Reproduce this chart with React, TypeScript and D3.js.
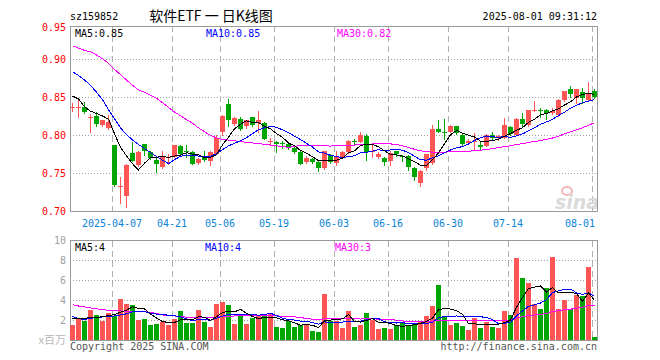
import * as React from "react";
import * as d3 from "d3";

// trading days shown (2025)
const dates = [
  "03-26", "03-27", "03-28", "03-31", "04-01", "04-02", "04-03", "04-07", "04-08", "04-09",
  "04-10", "04-11", "04-14", "04-15", "04-16", "04-17", "04-18", "04-21", "04-22", "04-23",
  "04-24", "04-25", "04-28", "04-29", "04-30", "05-06", "05-07", "05-08", "05-09", "05-12",
  "05-13", "05-14", "05-15", "05-16", "05-19", "05-20", "05-21", "05-22", "05-23", "05-26",
  "05-27", "05-28", "05-29", "05-30", "06-03", "06-04", "06-05", "06-06", "06-09", "06-10",
  "06-11", "06-12", "06-13", "06-16", "06-17", "06-18", "06-19", "06-20", "06-23", "06-24",
  "06-25", "06-26", "06-27", "06-30", "07-01", "07-02", "07-03", "07-04", "07-07", "07-08",
  "07-09", "07-10", "07-11", "07-14", "07-15", "07-16", "07-17", "07-18", "07-21", "07-22",
  "07-23", "07-24", "07-25", "07-28", "07-29", "07-30", "07-31", "08-01",
];

const opens = [
  0.836, 0.836, 0.838, 0.823, 0.826, 0.814, 0.810, 0.788, 0.732, 0.720,
  0.777, 0.761, 0.789, 0.778, 0.768, 0.759, 0.771, 0.772, 0.786, 0.7795,
  0.778, 0.764, 0.772, 0.766, 0.776, 0.805, 0.842, 0.815, 0.822, 0.812,
  0.824, 0.816, 0.817, 0.7925, 0.792, 0.7895, 0.789, 0.783, 0.778, 0.765,
  0.769, 0.765, 0.757, 0.774, 0.764, 0.772, 0.778, 0.793, 0.792, 0.799,
  0.779, 0.772, 0.770, 0.766, 0.779, 0.773, 0.773, 0.757, 0.738, 0.757,
  0.764, 0.808, 0.8048, 0.805, 0.813, 0.801, 0.790, 0.792, 0.787, 0.786,
  0.801, 0.7985, 0.797, 0.811, 0.801, 0.822, 0.814, 0.8335, 0.834, 0.834,
  0.829, 0.827, 0.847, 0.861, 0.849, 0.857, 0.847, 0.859,
];

const closes = [
  0.837, 0.838, 0.831, 0.824, 0.815, 0.820, 0.818, 0.735, 0.733, 0.761,
  0.767, 0.778, 0.779, 0.770, 0.763, 0.772, 0.772, 0.788, 0.776, 0.779,
  0.762, 0.769, 0.768, 0.778, 0.797, 0.826, 0.820, 0.823, 0.808, 0.820,
  0.814, 0.821, 0.796, 0.7932, 0.789, 0.789, 0.783, 0.778, 0.763, 0.771,
  0.765, 0.757, 0.779, 0.765, 0.772, 0.778, 0.793, 0.791, 0.801, 0.778,
  0.7795, 0.776, 0.765, 0.777, 0.775, 0.772, 0.759, 0.745, 0.753, 0.775,
  0.808, 0.805, 0.8042, 0.813, 0.803, 0.789, 0.793, 0.7925, 0.785, 0.801,
  0.7965, 0.799, 0.814, 0.802, 0.822, 0.815, 0.833, 0.834, 0.8335, 0.829,
  0.832, 0.847, 0.859, 0.854, 0.861, 0.849, 0.855, 0.8505,
];

const highs = [
  0.843, 0.847, 0.844, 0.828, 0.831, 0.820, 0.827, 0.788, 0.746, 0.762,
  0.791, 0.779, 0.789, 0.779, 0.772, 0.779, 0.775, 0.788, 0.787, 0.788,
  0.779, 0.770, 0.779, 0.779, 0.800, 0.827, 0.848, 0.824, 0.824, 0.821,
  0.825, 0.832, 0.818, 0.797, 0.793, 0.793, 0.790, 0.788, 0.779, 0.773,
  0.770, 0.767, 0.779, 0.775, 0.779, 0.779, 0.794, 0.795, 0.804, 0.802,
  0.788, 0.778, 0.772, 0.779, 0.780, 0.774, 0.774, 0.758, 0.754, 0.776,
  0.814, 0.821, 0.822, 0.814, 0.813, 0.802, 0.795, 0.803, 0.792, 0.802,
  0.804, 0.801, 0.823, 0.812, 0.823, 0.829, 0.834, 0.846, 0.836, 0.835,
  0.836, 0.848, 0.859, 0.865, 0.861, 0.862, 0.871, 0.861,
];

const lows = [
  0.832, 0.825, 0.830, 0.805, 0.813, 0.813, 0.809, 0.734, 0.711, 0.706,
  0.766, 0.760, 0.774, 0.769, 0.752, 0.757, 0.763, 0.772, 0.775, 0.772,
  0.762, 0.763, 0.766, 0.761, 0.775, 0.801, 0.812, 0.814, 0.807, 0.810,
  0.812, 0.805, 0.795, 0.788, 0.778, 0.783, 0.782, 0.777, 0.762, 0.764,
  0.764, 0.753, 0.756, 0.764, 0.761, 0.771, 0.777, 0.789, 0.791, 0.768,
  0.772, 0.771, 0.761, 0.761, 0.773, 0.766, 0.755, 0.742, 0.734, 0.755,
  0.763, 0.805, 0.795, 0.804, 0.802, 0.787, 0.789, 0.782, 0.7825, 0.786,
  0.794, 0.794, 0.797, 0.800, 0.800, 0.813, 0.813, 0.832, 0.825, 0.822,
  0.828, 0.826, 0.846, 0.850, 0.843, 0.843, 0.846, 0.849,
];

// volume, millions
const volumes = [
  1.6, 2.27, 1.93, 3.1, 2.6, 2.0, 2.8, 2.5, 4.2, 3.7,
  3.6, 2.1, 2.2, 1.6, 1.7, 1.9, 1.6, 2.2, 3.0, 1.8,
  1.8, 3.1, 1.9, 1.4, 3.7, 3.9, 3.6, 1.7, 2.7, 1.7,
  2.3, 2.47, 2.47, 2.7, 1.4, 1.3, 2.0, 1.4, 1.6, 1.6,
  1.0, 0.9, 4.7, 2.0, 1.93, 1.3, 3.0, 1.4, 1.6, 2.8,
  2.1, 1.2, 1.3, 1.2, 1.6, 1.8, 1.5, 1.8, 1.9, 2.5,
  3.5, 5.6, 2.5, 1.6, 1.8, 1.5, 1.1, 2.3, 1.3, 1.9,
  1.4, 1.3, 3.0, 2.6, 8.3, 6.27, 5.8, 3.7, 3.2, 5.3,
  8.4, 3.2, 4.1, 3.2, 4.6, 4.5, 7.4, 0.4,
];

// first MA values (earlier days are not on it)
const priceMa5Head = [0.852, 0.848, 0.838, 0.832];
const priceMa10Head = [0.884, 0.879, 0.873, 0.866, 0.857, 0.847, 0.834, 0.822, 0.81];
const priceMa30Head = [
  0.918, 0.915, 0.912, 0.91, 0.906, 0.901, 0.895, 0.887, 0.88, 0.873,
  0.866, 0.86, 0.857, 0.853, 0.849, 0.843, 0.837, 0.831, 0.826, 0.821,
  0.816, 0.81, 0.805, 0.8, 0.797, 0.795, 0.794, 0.793, 0.792,
];
const volMa5Head = [2.25, 2.15, 2.2, 2.3];
const volMa10Head = [2.4, 2.2, 2.1, 2.2, 2.3, 2.35, 2.4, 2.45, 2.55];
const volMa30Head = [
  3.58, 3.45, 3.35, 3.25, 3.17, 3.08, 3.02, 2.98, 2.95, 2.92,
  2.9, 2.88, 2.86, 2.84, 2.7, 2.55, 2.5, 2.45, 2.4, 2.33,
  2.3, 2.28, 2.27, 2.3, 2.35, 2.38, 2.42, 2.45, 2.47,
];

const tickDates = ["04-07", "04-21", "05-06", "05-19", "06-03", "06-16", "06-30", "07-14", "08-01"];
const tickLabels = ["2025-04-07", "04-21", "05-06", "05-19", "06-03", "06-16", "06-30", "07-14", "08-01"];
const priceTicks = [0.7, 0.75, 0.8, 0.85, 0.9, 0.95];
const volTicks = [2, 4, 6, 8, 10];

const RED = "#ff5555";
const GREEN = "#00a600";
const MONO = "'DejaVu Sans Mono', monospace";

function movingAverage(values: number[], n: number, head: number[]) {
  return values.map((_, i) =>
    i < head.length ? head[i] : (d3.mean(values.slice(i - n + 1, i + 1)) as number)
  );
}

function drawChart(svgRef: React.RefObject<SVGSVGElement>) {
  const svg = d3.select(svgRef.current);
  svg.selectAll("*").remove();

  const left = 70;
  const right = 597;
  const priceTop = 26;
  const n = dates.length;

  const x = d3.scaleLinear().domain([0, n - 1]).range([72, 594]);
  const y = d3.scaleLinear().domain([0.7, 0.95]).range([211.5, 21.5]);
  const yv = d3.scaleLinear().domain([0, 10]).range([340.5, 240.5]);
  const idx = d3.range(n);
  const tickIdx = tickDates.map((d) => dates.indexOf(d));

  const txt = (g: any, s: string, tx: number, ty: number, fill: string, anchor = "start", size = 10, family = MONO) =>
    g.append("text")
      .attr("x", tx).attr("y", ty)
      .attr("fill", fill)
      .attr("font-family", family)
      .attr("font-size", size)
      .attr("text-anchor", anchor)
      .text(s);

  // header
  txt(svg, "sz159852", 70, 20, "#000");
  txt(svg, "软件ETF 一 日K线图", 211, 21, "#000", "middle", 14, "'Noto Sans CJK SC', sans-serif");
  txt(svg, "2025-08-01 09:31:12", right, 20, "#000", "end");

  // ---- price panel grid
  const grid = svg.append("g").attr("shape-rendering", "crispEdges");
  priceTicks.slice(1, -1).forEach((p) => {
    grid.append("line")
      .attr("x1", left).attr("x2", right)
      .attr("y1", y(p)).attr("y2", y(p))
      .attr("stroke", "#a0a0a0").attr("stroke-dasharray", "1,2");
  });
  volTicks.slice(0, -1).forEach((v) => {
    grid.append("line")
      .attr("x1", left).attr("x2", right)
      .attr("y1", yv(v)).attr("y2", yv(v))
      .attr("stroke", "#a0a0a0").attr("stroke-dasharray", "1,2");
  });
  tickIdx.forEach((i) => {
    const gx = Math.round(x(i)) - 2 + 0.5;
    grid.append("line")
      .attr("x1", gx).attr("x2", gx).attr("y1", priceTop).attr("y2", 211.5)
      .attr("stroke", "#b0b0b0").attr("stroke-dasharray", "6,4");
    grid.append("line")
      .attr("x1", gx).attr("x2", gx).attr("y1", 240.5).attr("y2", 340.5)
      .attr("stroke", "#b0b0b0").attr("stroke-dasharray", "6,4");
  });

  // sina watermark
  const wm = svg.append("g");
  wm.append("ellipse").attr("cx", 567).attr("cy", 191).attr("rx", 5).attr("ry", 4)
    .attr("fill", "none").attr("stroke", "#f2b5b5").attr("stroke-width", 2);
  wm.append("text").attr("x", 577).attr("y", 209).attr("text-anchor", "middle")
    .attr("font-family", "'DejaVu Sans', sans-serif").attr("font-size", 19)
    .attr("font-style", "italic").attr("font-weight", "bold")
    .attr("fill", "#dadada").text("sina");

  // frames
  svg.append("rect").attr("x", left + 0.5).attr("y", priceTop + 0.5)
    .attr("width", right - left).attr("height", 211.5 - priceTop - 0.5)
    .attr("fill", "none").attr("stroke", "#999").attr("shape-rendering", "crispEdges");
  svg.append("rect").attr("x", left + 0.5).attr("y", 240.5)
    .attr("width", right - left).attr("height", 100)
    .attr("fill", "none").attr("stroke", "#999").attr("shape-rendering", "crispEdges");

  // price axis labels
  priceTicks.forEach((p) => {
    const ty = Math.max(y(p), priceTop + 1);
    txt(svg, p.toFixed(2), 66, ty + 3.5, "#ff0000", "end");
  });
  // volume axis labels
  volTicks.forEach((v) => {
    txt(svg, String(v), 66, yv(v) + 3.5, "#a0a0a0", "end");
  });
  txt(svg, "x百万", 66, 344, "#b8b8b8", "end", 11, "'Noto Sans CJK SC', sans-serif");

  // date labels
  tickIdx.forEach((i, k) => {
    const label = tickLabels[k];
    const w = label.length * 6;
    const cx = Math.min(Math.round(x(i)) - 2, right - 2 - w / 2);
    txt(svg, label, cx, 227, "#0a84d8", "middle");
  });

  // ---- candles
  const color = (i: number) => (closes[i] >= opens[i] ? RED : GREEN);
  const candles = svg.append("g").attr("shape-rendering", "crispEdges");
  idx.forEach((i) => {
    const cx = Math.round(x(i));
    candles.append("line")
      .attr("x1", cx + 0.5).attr("x2", cx + 0.5)
      .attr("y1", Math.round(y(highs[i]))).attr("y2", Math.round(y(lows[i])) + 1)
      .attr("stroke", color(i));
    const top = Math.round(y(Math.max(opens[i], closes[i])));
    const bot = Math.round(y(Math.min(opens[i], closes[i])));
    candles.append("rect")
      .attr("x", cx - 2).attr("width", 5)
      .attr("y", top).attr("height", Math.max(1, bot - top))
      .attr("fill", color(i));
  });

  // volume bars
  const bars = svg.append("g").attr("shape-rendering", "crispEdges");
  idx.forEach((i) => {
    const cx = Math.round(x(i));
    const top = Math.round(yv(volumes[i]));
    bars.append("rect")
      .attr("x", cx - 2).attr("width", 5)
      .attr("y", top).attr("height", 340 - top)
      .attr("fill", color(i));
  });

  // ---- moving averages
  const pm5 = movingAverage(closes, 5, priceMa5Head);
  const pm10 = movingAverage(closes, 10, priceMa10Head);
  const pm30 = movingAverage(closes, 30, priceMa30Head);
  const vm5 = movingAverage(volumes, 5, volMa5Head);
  const vm10 = movingAverage(volumes, 10, volMa10Head);
  const vm30 = movingAverage(volumes, 30, volMa30Head);

  const maLine = (vals: number[], sy: any, stroke: string) => {
    const line = d3.line<number>().x((_, i) => x(i) + 0.5).y((v) => sy(v));
    svg.append("path").attr("d", line(vals) as string)
      .attr("fill", "none").attr("stroke", stroke).attr("stroke-width", 1)
      .attr("shape-rendering", "crispEdges");
  };
  maLine(pm30, y, "#ff00ff");
  maLine(pm10, y, "#0000ff");
  maLine(pm5, y, "#000000");
  maLine(vm30, yv, "#ff00ff");
  maLine(vm10, yv, "#0000ff");
  maLine(vm5, yv, "#000000");

  // MA legends
  const last = n - 1;
  txt(svg, `MA5:${pm5[last].toFixed(2)}`, 75, 37, "#000");
  txt(svg, `MA10:${pm10[last].toFixed(2)}`, 206, 37, "#0000ff");
  txt(svg, `MA30:${pm30[last].toFixed(2)}`, 337, 37, "#ff00ff");
  txt(svg, `MA5:${Math.round(vm5[last])}`, 75, 251, "#000");
  txt(svg, `MA10:${Math.round(vm10[last])}`, 205, 251, "#0000ff");
  txt(svg, `MA30:${Math.round(vm30[last])}`, 335, 251, "#ff00ff");

  // footer
  txt(svg, "Copyright 2025 SINA.COM", 70, 350, "#555");
  txt(svg, "http://finance.sina.com.cn", right, 350, "#555", "end");
}

const App: React.FunctionComponent = () => {
  const svg = React.useRef<SVGSVGElement>(null);
  React.useEffect(() => {
    drawChart(svg);
  }, [svg]);

  return (
    <svg
      ref={svg}
      width={660}
      height={360}
      style={{ position: "absolute", left: 0, top: 0, background: "#fff" }}
    />
  );
};

export default App;
